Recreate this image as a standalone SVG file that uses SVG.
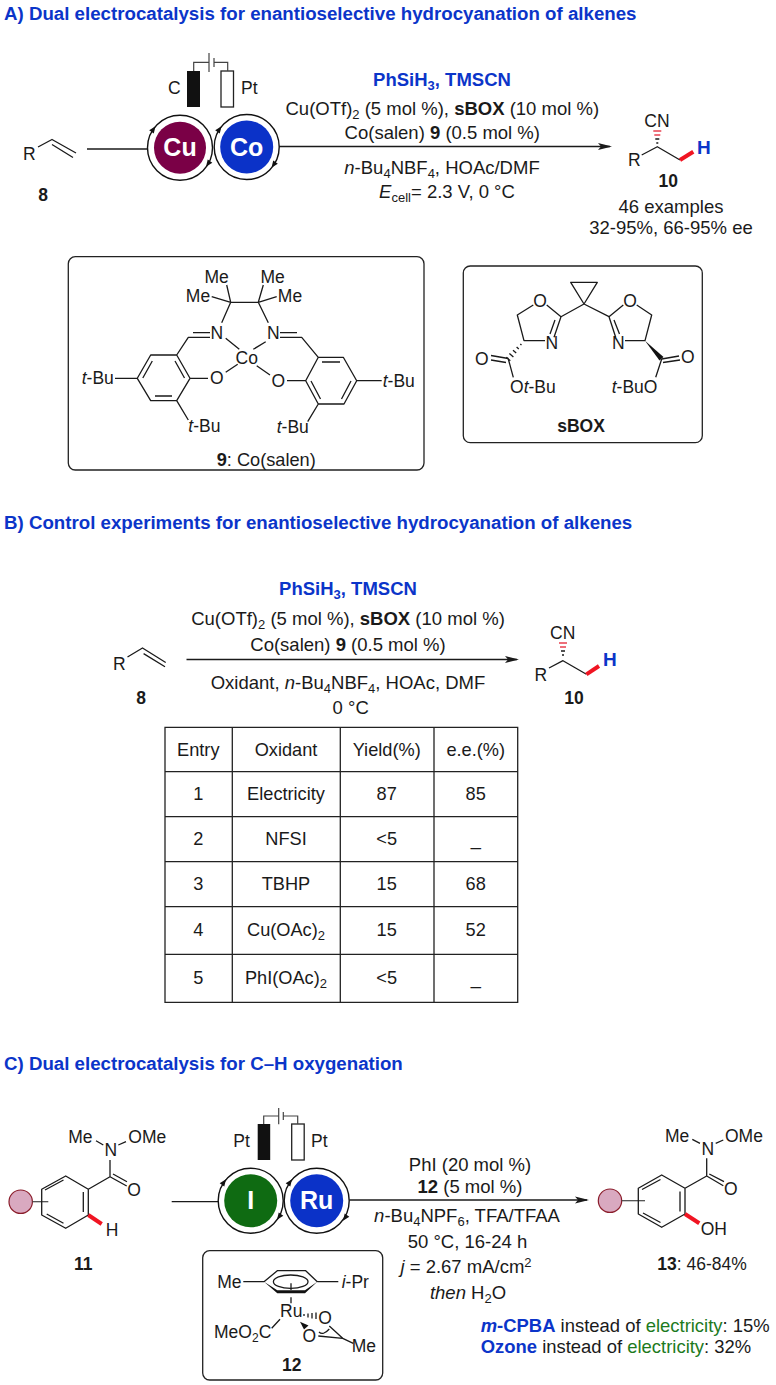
<svg xmlns="http://www.w3.org/2000/svg" width="776" height="1385" viewBox="0 0 776 1385">
<style>
text{font-family:"Liberation Sans",Arial,sans-serif;fill:#1a1a1a;font-size:17.5px}
.r{font-size:18.5px}
.c{font-size:18.2px}
.n{font-size:18.45px}
.m{text-anchor:middle}
.e{text-anchor:end}
.b{font-weight:bold}
.i{font-style:italic}
.h{font-weight:bold;fill:#0b35c9;font-size:18.7px}
.bl{font-weight:bold;fill:#0b35c9}
.g{fill:#1d7a1d}
.w{fill:#fff;font-weight:bold;font-size:25px;text-anchor:middle}
.l{fill:none;stroke:#1a1a1a;stroke-width:1.3;stroke-linejoin:round}
.g1{fill:none;stroke:#444;stroke-width:1.2}
.red{fill:none;stroke:#f01422;stroke-width:4}
.box{fill:none;stroke:#222;stroke-width:1.3}
.k{fill:#111}
.ring{fill:#fff;stroke:#111;stroke-width:1.4}
.pink{fill:#d9a9c0;stroke:#8a1c2a;stroke-width:1.2}
.hr{stroke:#e8404f;stroke-width:1.3}
.tb{fill:none;stroke:#222;stroke-width:1.3}
</style>
<defs>
<marker id="arrow" markerUnits="userSpaceOnUse" markerWidth="15" markerHeight="9" refX="12" refY="4.5" orient="auto"><path d="M0 1L14 4.500L0 8L3 4.500Z" fill="#1a1a1a"/></marker>
<polygon id="tick" points="-3.5,-2.8 3.5,0 -3.5,2.8" fill="#111"/>
</defs>

<text id="title-a" class="h" x="4" y="20">A) Dual electrocatalysis for enantioselective hydrocyanation of alkenes</text>
<text id="title-b" class="h" x="4" y="528.500">B) Control experiments for enantioselective hydrocyanation of alkenes</text>
<text id="title-c" class="h" x="4" y="1069.500">C) Dual electrocatalysis for C–H oxygenation</text>

<g id="connectors">
<path class="l" d="M87 149H148"/>
<path class="l" d="M279 146.500H610" marker-end="url(#arrow)"/>
<path class="l" d="M186.500 659.500H517" marker-end="url(#arrow)"/>
<path class="l" d="M171.700 1201.700H218.300"/>
<path class="l" d="M349.300 1200H587" marker-end="url(#arrow)"/>
</g>

<g id="alkene-8a">
<text x="23" y="160">R</text>
<path class="l" d="M38 147L52 139.500L76 153M52 144.500L73 157.500"/>
<text class="b m" x="43" y="201">8</text>
</g>

<g id="cell-a">
<rect class="k" x="187" y="71" width="13" height="36"/>
<rect x="221" y="71" width="12.500" height="36" fill="#fff" stroke="#222" stroke-width="1.3"/>
<path class="g1" d="M193.700 71V62.300H209M209 53V72M214 58V67M214 62.300H227.700V71"/>
<text x="168" y="94">C</text>
<text x="241" y="94">Pt</text>
<circle class="ring" cx="180" cy="147.700" r="32.500"/>
<circle cx="180" cy="147.700" r="26" fill="#7a0046"/>
<text class="w" x="180" y="155.500">Cu</text>
<circle class="ring" cx="246.700" cy="147" r="32.500"/>
<circle cx="246.700" cy="147" r="26.500" fill="#0b32c8"/>
<text class="w" x="246.700" y="155.500">Co</text>
<use href="#tick" transform="translate(153.500 129) rotate(-55)"/>
<use href="#tick" transform="translate(208 164) rotate(125)"/>
<use href="#tick" transform="translate(219.500 129) rotate(-55)"/>
<use href="#tick" transform="translate(273.500 165) rotate(125)"/>
</g>

<g id="conditions-a">
<text class="bl r m" x="442" y="85.700">PhSiH<tspan dy="4" font-size="13">3</tspan><tspan dy="-4">, TMSCN</tspan></text>
<text class="r m" x="442.300" y="115">Cu(OTf)<tspan dy="4" font-size="13">2</tspan><tspan dy="-4"> (5 mol %), </tspan><tspan class="b">sBOX</tspan> (10 mol %)</text>
<text class="r m" x="442.300" y="139">Co(salen) <tspan class="b">9</tspan> (0.5 mol %)</text>
<text class="r m" x="442" y="174"><tspan class="i">n</tspan>-Bu<tspan dy="4" font-size="13">4</tspan><tspan dy="-4">NBF</tspan><tspan dy="4" font-size="13">4</tspan><tspan dy="-4">, HOAc/DMF</tspan></text>
<text class="r m" x="447" y="197.700"><tspan class="i">E</tspan><tspan dy="4" font-size="13">cell</tspan><tspan dy="-4">= 2.3 V, 0 °C</tspan></text>
</g>

<g id="product-10a">
<text x="644.300" y="126.700">CN</text>
<path class="hr" d="M653.300 131H661.300M654.300 135H660.300"/>
<path class="l" d="M655.300 139H659.300M656.300 143H658.300"/>
<text x="628" y="166">R</text>
<path class="l" d="M641.700 155L657.300 146.700L680 160"/>
<path class="red" d="M680 160L693.300 151.700"/>
<text class="bl" x="697" y="153.500" style="font-size:19px">H</text>
<text class="b m" x="668.300" y="186.700">10</text>
<text class="r m" x="671" y="213">46 examples</text>
<text class="r m" x="671" y="234">32-95%, 66-95% ee</text>
</g>

<g id="salen-9">
<rect class="box" x="68.300" y="256.700" width="355.700" height="213.300" rx="7"/>
<path class="l" d="M230.700 302.300H258.300M230.700 302.300L226.700 285M230.700 302.300L211.700 296.700M258.300 302.300L263.300 285M258.300 302.300L276.700 296.700M230.700 302.300L221.700 322.700M258.300 302.300L268.300 322.700"/>
<path class="l" d="M176.700 355L190 378.300L176.700 400.700H150.700L137.300 378.300L150.700 355ZM175 361L184.500 378M142.800 378L152.300 361M155 396H172M190 378.300H208M137.300 378.300H115M176.700 400.700L188.300 420M176.700 355L188.300 337.300H210M193 332.700H210M225.700 338.300L239.300 349.300M237.700 364.300L225.700 372.300"/>
<path class="l" d="M318.300 357.300H343.300L356.700 380.700L344 404H318.300L305.700 380.700ZM322 362H340M351 381L341.500 399M320.500 399L311 381M305.700 380.700H287M356.700 380.700H381.700M318.300 404L307.700 421.700M318.300 357.300L301.700 337.300H280M297 332.700H280M265.700 341.700L253.300 349.300M256.700 365.700L270 375"/>
<text class="m" x="216.700" y="283">Me</text>
<text class="m" x="198" y="301.700">Me</text>
<text class="m" x="272.700" y="283">Me</text>
<text class="m" x="290" y="301.700">Me</text>
<text class="m" x="216.700" y="339.300">N</text>
<text class="m" x="273.300" y="339.300">N</text>
<text class="m" x="246.700" y="364">Co</text>
<text class="m" x="216.700" y="384.300">O</text>
<text class="m" x="278.300" y="387">O</text>
<text x="81.700" y="384"><tspan class="i">t</tspan>-Bu</text>
<text x="188.300" y="431.700"><tspan class="i">t</tspan>-Bu</text>
<text x="382.700" y="386.700"><tspan class="i">t</tspan>-Bu</text>
<text x="276.700" y="432.700"><tspan class="i">t</tspan>-Bu</text>
<text class="c" x="216.700" y="465.500"><tspan class="b">9</tspan>: Co(salen)</text>
</g>

<g id="sbox">
<rect class="box" x="463.300" y="266" width="239" height="176.700" rx="7"/>
<path class="l" d="M570.700 282.300H597.300L584 304ZM584 304L561 316.700L546.700 305M533.300 305L517.300 315L524 340.700H545M561 316.700L554 337.300M555 320L550 334M584 304L609 316.700L623.300 305M636.700 305L651.700 315L645 340.700H625M609 316.700L615.700 337.300M614 320L619.500 334"/>
<path class="l" d="M520.300 343.900L521.500 344.900M516.600 347L518.800 349M513 350.300L516.200 353.100M509.400 353.500L513.400 357.100M506.300 357.300L510.300 360.700"/>
<path class="l" d="M491 355.500L508.300 358.500M491 360L506 362.500M508.300 359L513.300 377.300M661.700 359L679 356M663 362.500L680 360M661.700 359L655.700 377.300"/>
<polygon class="k" points="645,340.700 659.500,360.500 663.500,357"/>
<text class="m" x="540" y="307.300">O</text>
<text class="m" x="630" y="307.300">O</text>
<text class="m" x="551.700" y="349.300">N</text>
<text class="m" x="618.300" y="349.300">N</text>
<text class="m" x="481.700" y="365">O</text>
<text class="m" x="687.700" y="363.300">O</text>
<text x="510" y="392.700">O<tspan class="i">t</tspan>-Bu</text>
<text x="611.700" y="392.700"><tspan class="i">t</tspan>-BuO</text>
<text class="b m" x="581" y="431.700">sBOX</text>
</g>

<g id="alkene-8b">
<text x="113" y="669.600">R</text>
<path class="l" d="M127.500 657L142.500 648L165.700 662.500M143.600 653.600L165 666.800"/>
<text class="b m" x="141" y="703.600">8</text>
</g>

<g id="conditions-b">
<text class="bl r m" x="348" y="595">PhSiH<tspan dy="4" font-size="13">3</tspan><tspan dy="-4">, TMSCN</tspan></text>
<text class="r m" x="348" y="625">Cu(OTf)<tspan dy="4" font-size="13">2</tspan><tspan dy="-4"> (5 mol %), </tspan><tspan class="b">sBOX</tspan> (10 mol %)</text>
<text class="r m" x="348" y="651">Co(salen) <tspan class="b">9</tspan> (0.5 mol %)</text>
<text class="r m" x="348" y="688.600">Oxidant, <tspan class="i">n</tspan>-Bu<tspan dy="4" font-size="13">4</tspan><tspan dy="-4">NBF</tspan><tspan dy="4" font-size="13">4</tspan><tspan dy="-4">, HOAc, DMF</tspan></text>
<text class="r m" x="350.700" y="714">0 °C</text>
</g>

<g id="product-10b">
<text x="550" y="638.600">CN</text>
<path class="hr" d="M559 643H567M560 647H566"/>
<path class="l" d="M561 651H565M562 655H564"/>
<text x="534.600" y="681.400">R</text>
<path class="l" d="M549 668L563 660.700L586.400 674.300"/>
<path class="red" d="M586.400 674.300L599 666"/>
<text class="bl" x="603" y="666" style="font-size:19px">H</text>
<text class="b m" x="574" y="703.600">10</text>
</g>

<g id="table-b">
<path class="tb" d="M165 727.300H517.700V1002.300H165ZM232.300 727.300V1002.300M340.300 727.300V1002.300M434 727.300V1002.300M165 771.700H517.700M165 816.700H517.700M165 861.700H517.700M165 906.700H517.700M165 954.300H517.700"/>
<text class="c m" x="198.300" y="755.700">Entry</text>
<text class="c m" x="286" y="755.700">Oxidant</text>
<text class="c m" x="386.700" y="755.700">Yield(%)</text>
<text class="c m" x="475.700" y="755.700">e.e.(%)</text>
<text class="c m" x="198.300" y="800">1</text>
<text class="c m" x="286" y="800">Electricity</text>
<text class="c m" x="386.700" y="800">87</text>
<text class="c m" x="475.700" y="800">85</text>
<text class="c m" x="198.300" y="845">2</text>
<text class="c m" x="286" y="845">NFSI</text>
<text class="c m" x="386.700" y="845">&lt;5</text>
<text class="c m" x="475.700" y="845">_</text>
<text class="c m" x="198.300" y="890">3</text>
<text class="c m" x="286" y="890">TBHP</text>
<text class="c m" x="386.700" y="890">15</text>
<text class="c m" x="475.700" y="890">68</text>
<text class="c m" x="198.300" y="935.700">4</text>
<text class="c m" x="286" y="935.700">Cu(OAc)<tspan dy="4" font-size="13">2</tspan></text>
<text class="c m" x="386.700" y="935.700">15</text>
<text class="c m" x="475.700" y="935.700">52</text>
<text class="c m" x="198.300" y="984">5</text>
<text class="c m" x="286" y="984">PhI(OAc)<tspan dy="4" font-size="13">2</tspan></text>
<text class="c m" x="386.700" y="984">&lt;5</text>
<text class="c m" x="475.700" y="984">_</text>
</g>

<g id="substrate-11">
<circle class="pink" cx="20.700" cy="1201.700" r="11.700"/>
<path class="g1" d="M32.300 1201.700H48.300"/>
<path class="l" d="M88.300 1189.300V1215L65.700 1228.300L41.700 1215V1189.300L65.700 1176ZM83.300 1192V1212M45 1190L63.500 1180M46.700 1214L63.500 1223.300M88.300 1189.300L110 1176.700L126.700 1186M113 1174L127 1181.700M110 1176.700V1160M96 1140.700L103.300 1145M118.300 1145L126 1141.700"/>
<path class="red" d="M88.300 1215L101.700 1224"/>
<text x="68.300" y="1143.300">Me</text>
<text class="m" x="110.700" y="1156">N</text>
<text x="128.300" y="1143.300">OMe</text>
<text class="m" x="134" y="1196">O</text>
<text x="105.700" y="1236">H</text>
<text class="b m" x="83.300" y="1270">11</text>
</g>

<g id="cell-c">
<rect class="k" x="257.700" y="1124" width="12.500" height="36"/>
<rect x="291.700" y="1124" width="12.500" height="36" fill="#fff" stroke="#222" stroke-width="1.3"/>
<path class="g1" d="M263.700 1124V1116H278.700M278.700 1108V1124.300M283.300 1112V1120M283.300 1116H297.700V1124"/>
<text x="233.300" y="1146.700">Pt</text>
<text x="311" y="1146.700">Pt</text>
<circle class="ring" cx="250.700" cy="1200.700" r="32.500"/>
<circle cx="250.700" cy="1200.700" r="26.500" fill="#0f6b12"/>
<text class="w" x="250.700" y="1208.800">I</text>
<circle class="ring" cx="316.700" cy="1200.700" r="32.500"/>
<circle cx="316.700" cy="1200.700" r="26.500" fill="#0b32c8"/>
<text class="w" x="316.700" y="1208.800">Ru</text>
<use href="#tick" transform="translate(224 1182) rotate(-55)"/>
<use href="#tick" transform="translate(279 1217) rotate(125)"/>
<use href="#tick" transform="translate(290 1182) rotate(-55)"/>
<use href="#tick" transform="translate(345 1218) rotate(125)"/>
</g>

<g id="conditions-c">
<text class="r m" x="470" y="1170.700">PhI (20 mol %)</text>
<text class="r m" x="470" y="1192.700"><tspan class="b">12</tspan> (5 mol %)</text>
<text class="r m" x="467" y="1221.700"><tspan class="i">n</tspan>-Bu<tspan dy="4" font-size="13">4</tspan><tspan dy="-4">NPF</tspan><tspan dy="4" font-size="13">6</tspan><tspan dy="-4">, TFA/TFAA</tspan></text>
<text class="r m" x="467.500" y="1247.700">50 °C, 16-24 h</text>
<text class="r m" x="466" y="1272.700"><tspan class="i">j</tspan> = 2.67 mA/cm<tspan dy="-6" font-size="13">2</tspan></text>
<text class="r m" x="468" y="1299"><tspan class="i">then</tspan> H<tspan dy="4" font-size="13">2</tspan><tspan dy="-4">O</tspan></text>
</g>

<g id="catalyst-12">
<rect class="box" x="202.700" y="1250.700" width="180" height="129.300" rx="7"/>
<path class="l" d="M264 1281.700L277.300 1270.700H305.700L317.300 1281.700M243.300 1281.700H264M317.300 1281.700H338.300M291 1283.300V1290M291 1297.300V1303.300M280 1319.300L271.700 1328.300M329.300 1326L342.700 1338.300L318.300 1336M342.700 1338.300L353.300 1343.300M319 1332Q323 1336 329.300 1329"/>
<ellipse class="l" cx="290.700" cy="1281.700" rx="17.300" ry="6.700"/>
<polygon class="k" points="264,1281.700 277.300,1293.300 305,1293.300 317.300,1281.700 305,1290.300 277.300,1290.300"/>
<path class="l" d="M304 1314V1316M308 1313.500V1317.500M312 1313V1318.500M316 1312.500V1319"/>
<polygon class="k" points="300,1321.700 304,1329.500 308.500,1325.500"/>
<text x="217.300" y="1288.300">Me</text>
<text x="341.700" y="1288.300"><tspan class="i">i</tspan>-Pr</text>
<text x="280" y="1317.300">Ru</text>
<text class="m" x="325" y="1324">O</text>
<text class="m" x="309.300" y="1341.700">O</text>
<text x="351.700" y="1351.700">Me</text>
<text x="214" y="1338.300">MeO<tspan dy="4" font-size="12">2</tspan><tspan dy="-4">C</tspan></text>
<text class="b m" x="291.700" y="1371">12</text>
</g>

<g id="product-13">
<circle class="pink" cx="610" cy="1200.700" r="11.700"/>
<path class="g1" d="M621.700 1200.700H645"/>
<path class="l" d="M685 1188.300V1214L661.700 1227.300L638.300 1214V1188.300L661.700 1175ZM680 1191.500V1211.500M642 1189.500L660.500 1179.500M643 1213L660.500 1222.500M685 1188.300L706.700 1176L723.300 1185.700M709.300 1174L724 1181.700M706.700 1176V1158.300M692.300 1139.300L700 1143.300M715.700 1143.300L723.300 1140"/>
<path class="red" d="M685 1214L699.300 1223.300"/>
<text x="665" y="1141.700">Me</text>
<text class="m" x="707.700" y="1155">N</text>
<text x="725" y="1141.700">OMe</text>
<text class="m" x="730.700" y="1195">O</text>
<text x="700.700" y="1235">OH</text>
<text x="657.300" y="1270"><tspan class="b">13</tspan>: 46-84%</text>
</g>

<g id="notes-c">
<text class="n" x="480.700" y="1331.700"><tspan class="bl i">m</tspan><tspan class="bl">-CPBA</tspan> instead of <tspan class="g">electricity</tspan>: 15%</text>
<text class="n" x="480.700" y="1353.300"><tspan class="bl">Ozone</tspan> instead of <tspan class="g">electricity</tspan>: 32%</text>
</g>
</svg>
